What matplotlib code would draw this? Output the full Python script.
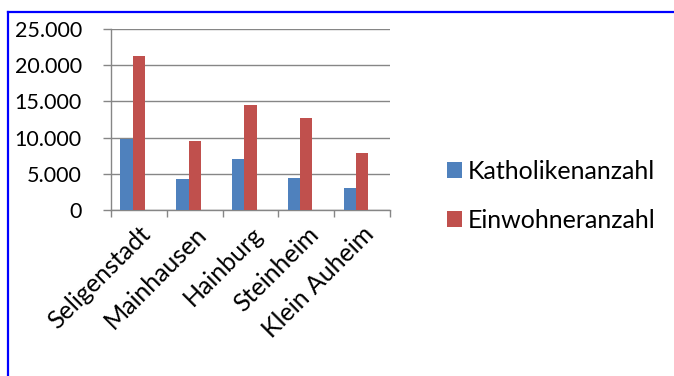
import matplotlib
matplotlib.use("Agg")
import matplotlib.pyplot as plt
import numpy as np
from matplotlib.ticker import FuncFormatter, FixedLocator
from matplotlib.lines import Line2D

categories = ["Seligenstadt", "Mainhausen", "Hainburg", "Steinheim", "Klein Auheim"]
katholiken = [9750, 4300, 7000, 4400, 3000]
einwohner = [21300, 9500, 14500, 12650, 7870]
series_names = ["Katholikenanzahl", "Einwohneranzahl"]
yticks = [0, 5000, 10000, 15000, 20000, 25000]

plt.rcParams['font.family'] = ['Lato', 'DejaVu Sans']

W, H = 674, 376
fig = plt.figure(figsize=(W / 100, H / 100), dpi=100)
ax = fig.add_axes([111 / W, 1 - 210 / H, (390 - 111) / W, (210 - 29) / H])

x = np.arange(len(categories))
bw = 0.222
blue = "#4F81BD"
red = "#C0504D"
ax.bar(x - bw, katholiken, width=bw, color=blue, label=series_names[0], zorder=3)
ax.bar(x, einwohner, width=bw, color=red, label=series_names[1], zorder=3)

ax.set_xlim(-0.5, len(categories) - 0.5)
ax.set_ylim(0, 25000)
ax.set_yticks(yticks)
ax.yaxis.set_major_formatter(FuncFormatter(lambda v, p: f"{int(v):,}".replace(",", ".")))
ax.yaxis.grid(True, color="#868686", linewidth=1.0, zorder=0)
ax.set_axisbelow(True)

ax.set_xticks(x)
ax.set_xticklabels(categories, rotation=45, ha="right", rotation_mode="anchor")
ax.xaxis.set_minor_locator(FixedLocator(np.arange(-0.5, len(categories), 1.0)))
ax.tick_params(axis="x", which="major", length=0, pad=9, labelsize=18)
ax.tick_params(axis="x", which="minor", length=5, width=1, color="#868686", direction="out")
ax.tick_params(axis="y", which="major", length=6, width=1, color="#868686", pad=15, labelsize=15.5)

for s in ["top", "right"]:
    ax.spines[s].set_visible(False)
for s in ["left", "bottom"]:
    ax.spines[s].set_color("#868686")
    ax.spines[s].set_linewidth(1.0)

handles, labels = ax.get_legend_handles_labels()
fig.legend(handles, labels, loc="center left", bbox_to_anchor=(424 / W, 1 - 196 / H),
           frameon=False, fontsize=18, handlelength=0.6, handleheight=0.6,
           handletextpad=0.25, labelspacing=1.03)

# blue border (top and left)
fig.add_artist(Line2D([8 / W, 1.0], [1 - 12 / H, 1 - 12 / H], color="#0000FF", linewidth=1.6,
                      transform=fig.transFigure))
fig.add_artist(Line2D([8 / W, 8 / W], [1 - 12 / H, 0.0], color="#0000FF", linewidth=1.6,
                      transform=fig.transFigure))

fig.savefig("out.png", dpi=100)
